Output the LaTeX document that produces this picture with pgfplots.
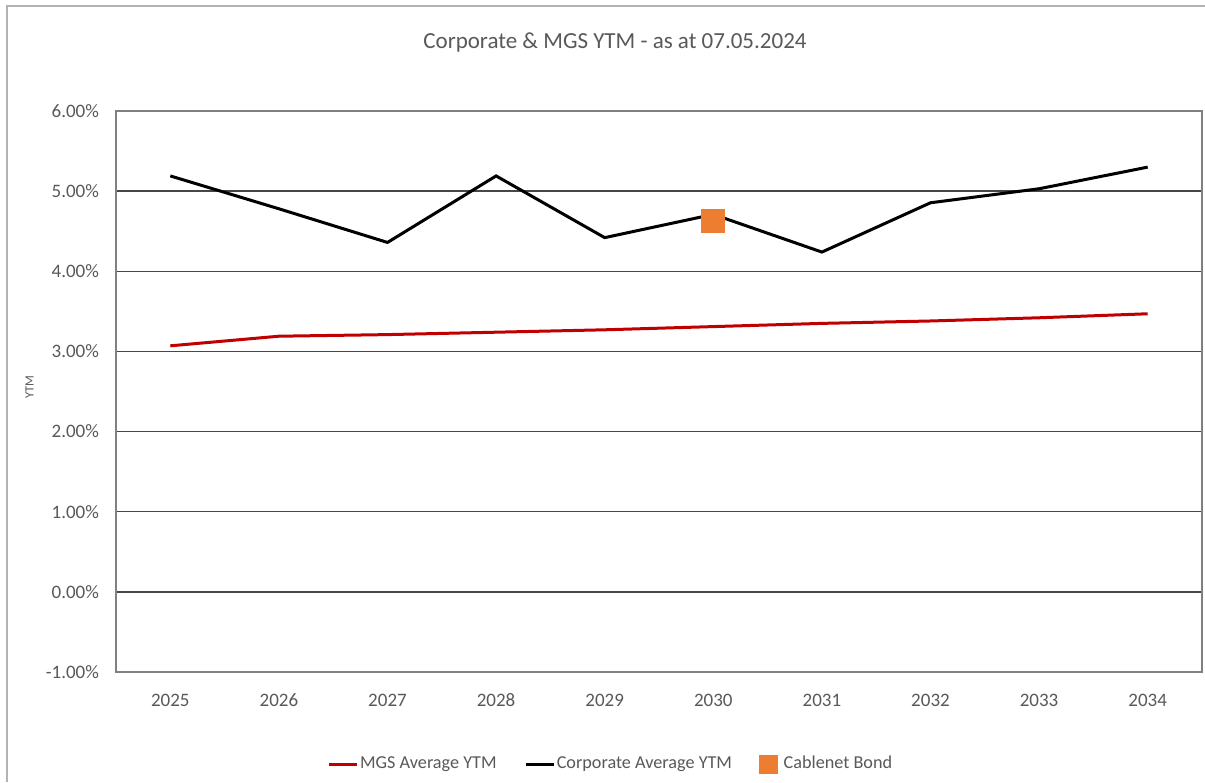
\documentclass[border=0pt]{standalone}
\usepackage{fontspec}
\setmainfont{Carlito}
\usepackage{pgfplots}
\pgfplotsset{compat=1.18}
\definecolor{txt}{HTML}{595959}
\definecolor{mgs}{HTML}{C00000}
\definecolor{cab}{HTML}{ED7D31}
\pgfplotsset{
  shortline/.style={legend image code/.code={\draw[##1] (0pt,0pt) -- (14pt,0pt);}},
  onemark/.style={legend image code/.code={\draw[##1, mark size=4.5pt, mark options={rounded corners=1.2pt}] plot coordinates {(4.5pt,0pt)};\path (11pt,0pt);}},
}
\begin{document}
\begin{tikzpicture}[x=1pt,y=1pt]
\useasboundingbox[fill=white] (0,0) rectangle (602.5,-391);
\draw[black!30, line width=0.75pt] (3.5,-391) -- (3.5,-3) -- (602.5,-3);
\node[txt, font=\fontsize{11.5}{13}\selectfont, anchor=base] at (307.5,-24) {Corporate \& MGS YTM - as at 07.05.2024};
\begin{axis}[
  at={(58pt,-336pt)}, anchor=south west,
  width=543pt, height=280.5pt, scale only axis,
  xmin=-0.5, xmax=9.5, ymin=-1, ymax=6,
  xtick={0,1,2,3,4,5,6,7,8,9},
  xticklabels={2025,2026,2027,2028,2029,2030,2031,2032,2033,2034},
  ytick={-1,0,1,2,3,4,5,6},
  yticklabel={\pgfmathprintnumber[fixed,fixed zerofill,precision=2]{\tick}\%},
  /pgf/number format/assume math mode=true,
  major tick length=0pt,
  ymajorgrids, xmajorgrids=false,
  grid style={black!72, line width=0.7pt},
  axis line style={black!50, line width=0.7pt},
  tick label style={txt, font=\fontsize{9.5}{11}\selectfont},
  yticklabel style={xshift=-5pt},
  xticklabel style={yshift=-6.5pt, text height=7pt, text depth=0pt},
  ylabel={YTM},
  ylabel style={at={(axis description cs:-0.0795,0.508)}, anchor=center, txt, font=\fontsize{6.3}{7}\selectfont},
  legend style={draw=none, fill=none, at={(axis description cs:0.4555,-0.164)}, anchor=center,
    legend columns=3, font=\fontsize{9.1}{11}\selectfont, text=txt,
    nodes={inner sep=0.8pt}, /tikz/every even column/.append style={column sep=13pt}},
  legend cell align=left,
]
\addplot[mgs, line width=1.5pt, shortline]
coordinates {(0,3.07) (1,3.19) (2,3.21) (3,3.24) (4,3.27) (5,3.31) (6,3.35) (7,3.38) (8,3.42) (9,3.47)};
\addlegendentry{MGS Average YTM}
\addplot[black, line width=1.5pt, shortline]
coordinates {(0,5.19) (1,4.78) (2,4.36) (3,5.19) (4,4.42) (5,4.71) (6,4.24) (7,4.855) (8,5.03) (9,5.30)};
\addlegendentry{Corporate Average YTM}
\addplot[only marks, mark=square*, mark size=5.75pt, color=cab, mark options={draw=cab, fill=cab, rounded corners=1.5pt}, onemark]
coordinates {(5,4.63)};
\addlegendentry{Cablenet Bond}
\end{axis}
\end{tikzpicture}
\end{document}
